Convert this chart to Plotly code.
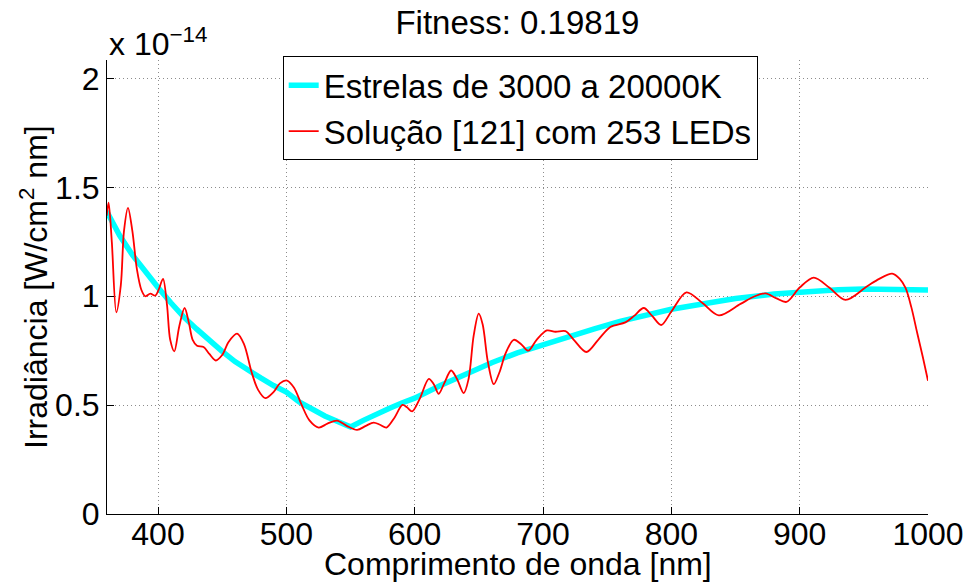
import plotly.graph_objects as go

# Data (irradiance in units of 1e-14 W/cm^2 nm)
star_wl = [360, 370, 380, 390, 400, 410, 420, 430, 440, 450, 460, 470, 480, 490, 500,
           510, 520, 530, 540, 550, 560, 570, 580, 590, 600, 620, 640, 660, 680, 700,
           720, 740, 760, 780, 800, 830, 850, 880, 900, 930, 950, 970, 1000]
star_irr = [1.39, 1.28, 1.19, 1.11, 1.04, 0.97, 0.905, 0.85, 0.795, 0.747, 0.70, 0.66, 0.625, 0.59, 0.56,
            0.515, 0.48, 0.45, 0.425, 0.40, 0.43, 0.46, 0.485, 0.51, 0.532, 0.59, 0.645, 0.695, 0.74, 0.778,
            0.815, 0.85, 0.885, 0.915, 0.94, 0.97, 0.99, 1.01, 1.02, 1.03, 1.033, 1.033, 1.029]

sol_wl = [360, 361.5, 364, 367.5, 371, 373.5, 376.6, 380, 383.6, 387, 390.1, 394, 397.9, 400.5,
          403.9, 407, 409.5, 412.7, 416.5, 420.7, 424, 427, 430.4, 435.5, 440, 445, 450, 455,
          461.6, 467, 473, 478, 483.6, 490, 495, 500.5, 506, 512, 518, 525.2, 532, 539.5, 547,
          555.1, 562, 568, 573, 578, 584, 590.5, 594, 598, 604, 611, 615, 618.7, 623, 628.4,
          633, 638.2, 642, 646, 649.9, 653, 657, 661.6, 666, 671, 677.2, 683, 688.5, 695, 703,
          709.7, 717.5, 724, 733.8, 743, 752.5, 764.2, 771, 778.5, 785, 792.1, 800, 811.8, 824,
          837, 853.9, 865, 873.4, 882, 889.7, 900, 911, 923, 935.7, 952.6, 962, 972.1, 978,
          982.5, 987, 991.6, 996, 1000]
sol_irr = [1.37, 1.43, 1.25, 0.926, 1.05, 1.30, 1.406, 1.30, 1.122, 1.03, 1.00, 1.012, 1.003, 1.03,
           1.08, 0.96, 0.80, 0.747, 0.86, 0.946, 0.88, 0.80, 0.773, 0.767, 0.735, 0.705, 0.73, 0.79,
           0.828, 0.78, 0.65, 0.57, 0.532, 0.56, 0.60, 0.613, 0.58, 0.50, 0.43, 0.397, 0.415, 0.429, 0.405,
           0.386, 0.405, 0.42, 0.41, 0.397, 0.44, 0.501, 0.49, 0.471, 0.53, 0.621, 0.595, 0.552, 0.60, 0.659,
           0.62, 0.555, 0.62, 0.82, 0.92, 0.87, 0.70, 0.596, 0.65, 0.74, 0.80, 0.78, 0.75, 0.80, 0.843,
           0.837, 0.84, 0.80, 0.744, 0.80, 0.859, 0.88, 0.91, 0.946, 0.91, 0.868, 0.93, 1.018, 0.97,
           0.912, 0.965, 1.00, 1.013, 0.99, 0.974, 1.04, 1.086, 1.04, 0.983, 1.046, 1.08, 1.104, 1.08,
           1.038, 0.95, 0.831, 0.72, 0.612]

x_ticks = [400, 500, 600, 700, 800, 900, 1000]
y_ticks = [0, 0.5, 1, 1.5, 2]
y_tick_text = ["0", "0.5", "1", "1.5", "2"]

FONT = "Liberation Sans, Arial, Helvetica, sans-serif"
FS = 32

fig = go.Figure()
fig.add_trace(go.Scatter(x=star_wl, y=star_irr, mode="lines", name="Estrelas de 3000 a 20000K",
                         line=dict(color="#00FFFF", width=5.5)))
fig.add_trace(go.Scatter(x=sol_wl, y=sol_irr, mode="lines", name="Solução [121] com 253 LEDs",
                         line=dict(color="#FF0000", width=1.8, shape="spline", smoothing=0.9)))

axis_common = dict(showline=True, linecolor="black", linewidth=1, mirror=False,
                   ticks="inside", ticklen=7, tickcolor="black",
                   showgrid=True, gridcolor="#8c8c8c", griddash="1px,3px", gridwidth=1,
                   zeroline=False, tickfont=dict(family=FONT, size=FS, color="black"))

fig.update_layout(
    width=968, height=587,
    margin=dict(l=107, r=40, t=60, b=73, autoexpand=False),
    paper_bgcolor="white", plot_bgcolor="white",
    font=dict(family=FONT, size=FS, color="black"),
    title=dict(text="Fitness: 0.19819", x=0.5345, xanchor="center", y=0.962, yanchor="middle",
               font=dict(family=FONT, size=33, color="black")),
    xaxis=dict(range=[360.25, 1000], tickvals=x_ticks, ticktext=[str(v) for v in x_ticks],
               ticklabelstandoff=-8, **axis_common),
    yaxis=dict(range=[0, 2.085], tickvals=y_ticks, ticktext=y_tick_text, **axis_common),
    legend=dict(x=0.214, y=1.008, xanchor="left", yanchor="top", bgcolor="white",
                bordercolor="black", borderwidth=1,
                font=dict(family=FONT, size=33, color="black")),
    showlegend=True,
)

# axis titles
fig.add_annotation(text="Comprimento de onda [nm]", xref="paper", yref="paper", x=0.5, y=-0.11,
                   xanchor="center", yanchor="middle", showarrow=False,
                   font=dict(family=FONT, size=FS, color="black"))
fig.add_annotation(text="Irradiância [W/cm<sup>2</sup> nm]", xref="paper", yref="paper",
                   x=-0.089, y=0.5, xanchor="center", yanchor="middle", textangle=-90,
                   showarrow=False, font=dict(family=FONT, size=FS, color="black"))

fig.add_annotation(text="x 10<sup>−14</sup>", xref="paper", yref="paper", x=0, y=1,
                   xanchor="left", yanchor="bottom", showarrow=False, yshift=-4,
                   font=dict(family=FONT, size=FS, color="black"))

fig.write_html("out.html")
